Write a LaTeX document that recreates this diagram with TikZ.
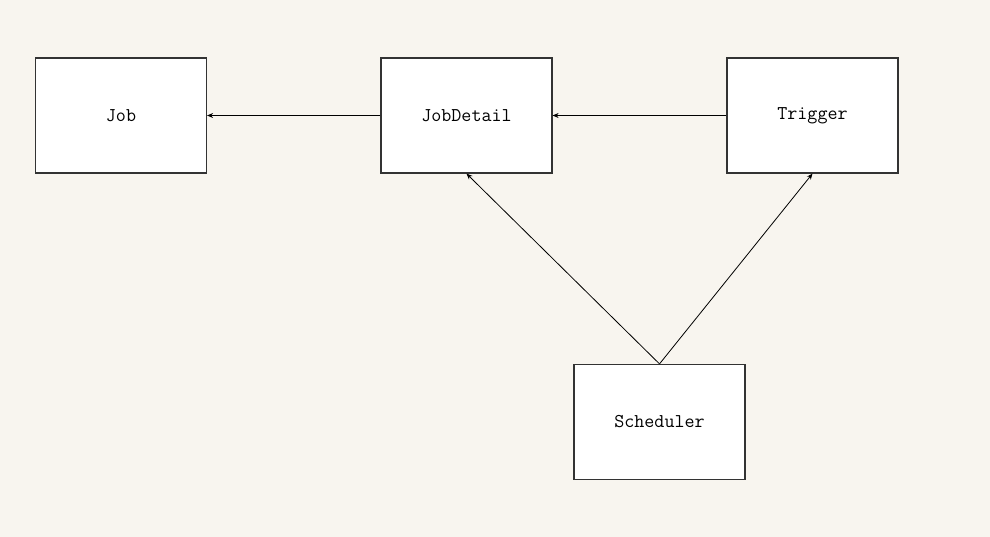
\documentclass[tikz,border=0pt]{standalone}
\usepackage{fontspec}
\usetikzlibrary{arrows.meta}
\definecolor{paper}{HTML}{F8F5EF}

\begin{document}
\begin{tikzpicture}[x=1pt,y=-1pt]
        \tikzstyle{every node}=[font=\ttfamily\fontsize{19.5}{22}\selectfont]
        \tikzstyle{block}=[draw=black!80,line width=1.2pt,fill=white,minimum width=171pt,minimum height=115pt,inner sep=0pt]
        \tikzstyle{link}=[line width=0.8pt,-{Stealth[length=6pt,width=5pt]}]

        \fill[paper] (0,0) rectangle (990,537);
        \useasboundingbox (0,0) rectangle (990,537);

        \node[block] (job) at (121,115.5) {Job};
        \node[block] (jobdetail) at (466.5,115.5) {JobDetail};
        \node[block] (trigger) at (812.5,115.5) {Trigger};
        \node[block] (scheduler) at (659.5,422) {Scheduler};

        \draw[link] (jobdetail.west) -- (job.east);
        \draw[link] (trigger.west) -- (jobdetail.east);
        \draw[link] (scheduler.north) -- (jobdetail.south);
        \draw[link] (scheduler.north) -- (trigger.south);

    \end{tikzpicture}
\end{document}
